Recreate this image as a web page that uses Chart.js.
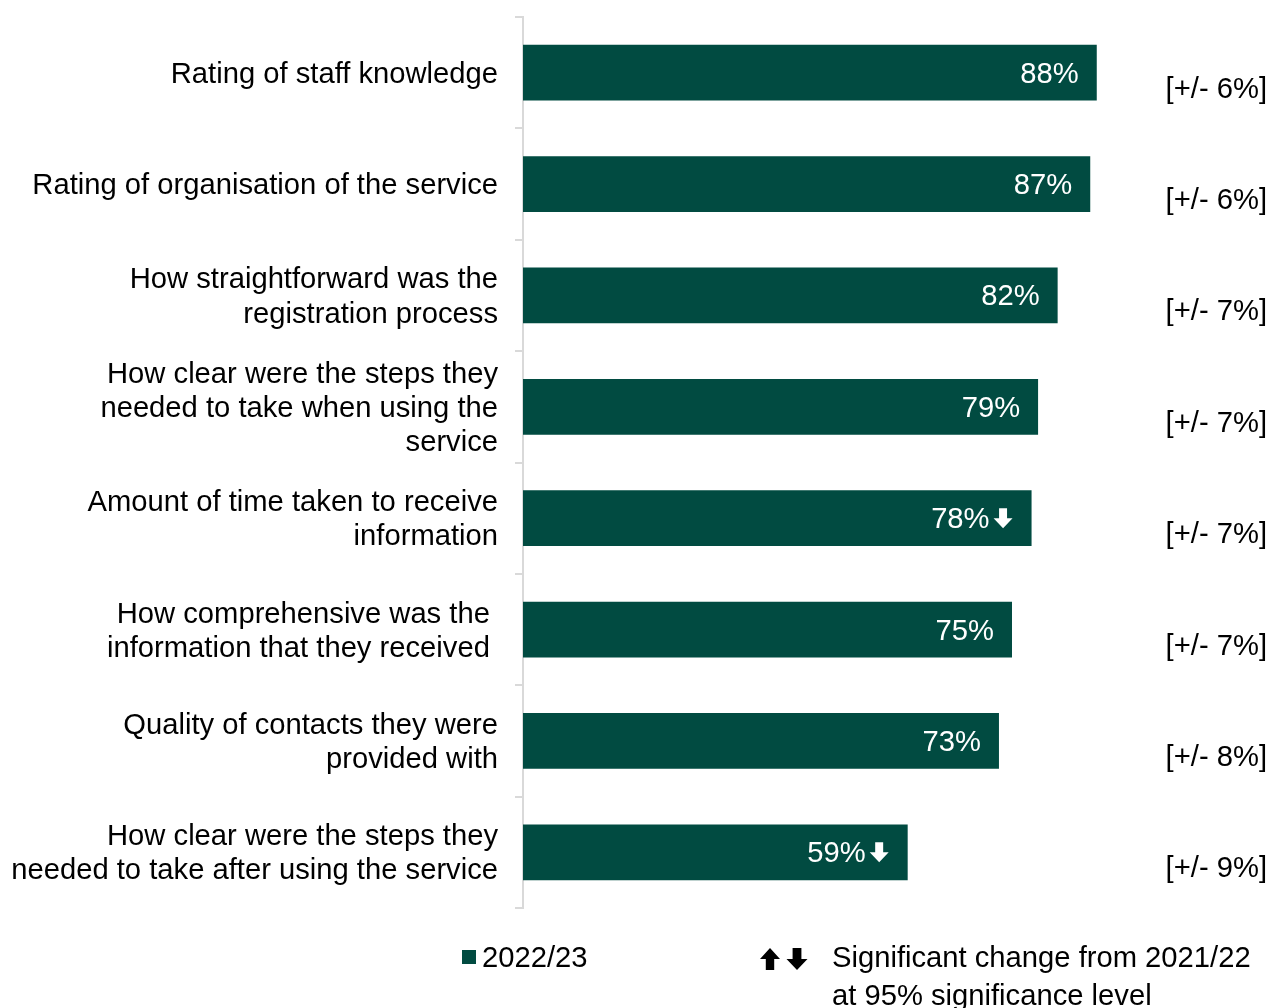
<!DOCTYPE html>
<html>
<head>
<meta charset="utf-8">
<script src="https://cdn.jsdelivr.net/npm/chart.js@4"></script>
<style>
  html, body { margin: 0; padding: 0; background: #ffffff; }
  #wrap { width: 1269px; height: 1008px; }
</style>
</head>
<body>
<div id="wrap"><canvas id="chart" width="1269" height="1008"></canvas></div>
<script>
// Survey measures, share of positive ratings (%)
const categories = [
  "Rating of staff knowledge",
  "Rating of organisation of the service",
  ["How straightforward was the", "registration process"],
  ["How clear were the steps they", "needed to take when using the", "service"],
  ["Amount of time taken to receive", "information"],
  ["How comprehensive was the ", "information that they received "],
  ["Quality of contacts they were", "provided with"],
  ["How clear were the steps they", "needed to take after using the service"]
];
const values = [88, 87, 82, 79, 78, 75, 73, 59];
const margins = ["[+/- 6%]", "[+/- 6%]", "[+/- 7%]", "[+/- 7%]", "[+/- 7%]", "[+/- 7%]", "[+/- 8%]", "[+/- 9%]"];
const changes = ["", "", "", "", "down", "", "", "down"];
const seriesName = "2022/23";
const changeNote = ["Significant change from 2021/22", "at 95% significance level"];

const BAR = "#014b41";
const FONT = "Liberation Sans, Arial, sans-serif";
const SIZE = 29.2;

// Solid block arrow: head on top (up) or bottom (down)
function blockArrow(ctx, cx, top, w, h, dir, color) {
  const shaft = w * 0.42, head = h * 0.5;
  ctx.save();
  ctx.fillStyle = color;
  ctx.beginPath();
  if (dir === "down") {
    ctx.moveTo(cx - shaft / 2, top);
    ctx.lineTo(cx + shaft / 2, top);
    ctx.lineTo(cx + shaft / 2, top + h - head);
    ctx.lineTo(cx + w / 2, top + h - head);
    ctx.lineTo(cx, top + h);
    ctx.lineTo(cx - w / 2, top + h - head);
    ctx.lineTo(cx - shaft / 2, top + h - head);
  } else {
    ctx.moveTo(cx, top);
    ctx.lineTo(cx + w / 2, top + head);
    ctx.lineTo(cx + shaft / 2, top + head);
    ctx.lineTo(cx + shaft / 2, top + h);
    ctx.lineTo(cx - shaft / 2, top + h);
    ctx.lineTo(cx - shaft / 2, top + head);
    ctx.lineTo(cx - w / 2, top + head);
  }
  ctx.closePath();
  ctx.fill();
  ctx.restore();
}

// Value labels inside bars, margins of error on the right, and the legend
const annotations = {
  id: "annotations",
  afterDatasetsDraw(chart) {
    const ctx = chart.ctx;
    const meta = chart.getDatasetMeta(0);
    ctx.save();
    ctx.font = SIZE + "px " + FONT;
    ctx.textBaseline = "middle";
    meta.data.forEach((bar, i) => {
      const y = bar.y;
      let right = bar.x - 18;
      if (changes[i]) {
        const aw = 19, ah = 20;
        blockArrow(ctx, bar.x - 19 - aw / 2, y - ah / 2, aw, ah, changes[i], "#ffffff");
        right = bar.x - 19 - aw - 4;
      }
      ctx.fillStyle = "#ffffff";
      ctx.textAlign = "right";
      ctx.fillText(values[i] + "%", right, y + 2);

      ctx.fillStyle = "#000000";
      ctx.textAlign = "right";
      ctx.fillText(margins[i], 1267, y + 17);
    });
    ctx.restore();
  },
  afterDraw(chart) {
    const ctx = chart.ctx;
    ctx.save();
    ctx.font = SIZE + "px " + FONT;
    ctx.textBaseline = "middle";
    ctx.textAlign = "left";
    ctx.fillStyle = BAR;
    ctx.fillRect(462, 950, 14, 14);
    ctx.fillStyle = "#000000";
    ctx.fillText(seriesName, 482, 959);
    blockArrow(ctx, 770, 948, 20, 22, "up", "#000000");
    blockArrow(ctx, 797, 948, 21, 22, "down", "#000000");
    ctx.fillStyle = "#000000";
    ctx.fillText(changeNote[0], 832, 959);
    ctx.fillText(changeNote[1], 832, 997);
    ctx.restore();
  }
};

new Chart(document.getElementById("chart"), {
  type: "bar",
  data: {
    labels: categories,
    datasets: [{
      label: seriesName,
      data: values,
      backgroundColor: BAR,
      borderWidth: 0,
      categoryPercentage: 1,
      barPercentage: 0.5
    }]
  },
  options: {
    indexAxis: "y",
    responsive: false,
    animation: false,
    layout: { padding: { top: 17, bottom: 100, right: 94, left: 0 } },
    plugins: {
      legend: { display: false },
      tooltip: { enabled: false }
    },
    scales: {
      x: { display: false, min: 0, max: 100 },
      y: {
        afterFit(scale) {
          scale.width = 523;
          scale.paddingTop = 0;
          scale.paddingBottom = 0;
        },
        border: { display: true, color: "#d9d9d9", width: 2 },
        grid: {
          display: true,
          offset: true,
          drawOnChartArea: false,
          drawTicks: true,
          tickLength: 8,
          color: "#d9d9d9",
          lineWidth: 2
        },
        ticks: {
          padding: 17,
          labelOffset: 2,
          color: "#000000",
          font: { family: FONT, size: SIZE, lineHeight: 1.165 }
        }
      }
    }
  },
  plugins: [annotations]
});
</script>
</body>
</html>
